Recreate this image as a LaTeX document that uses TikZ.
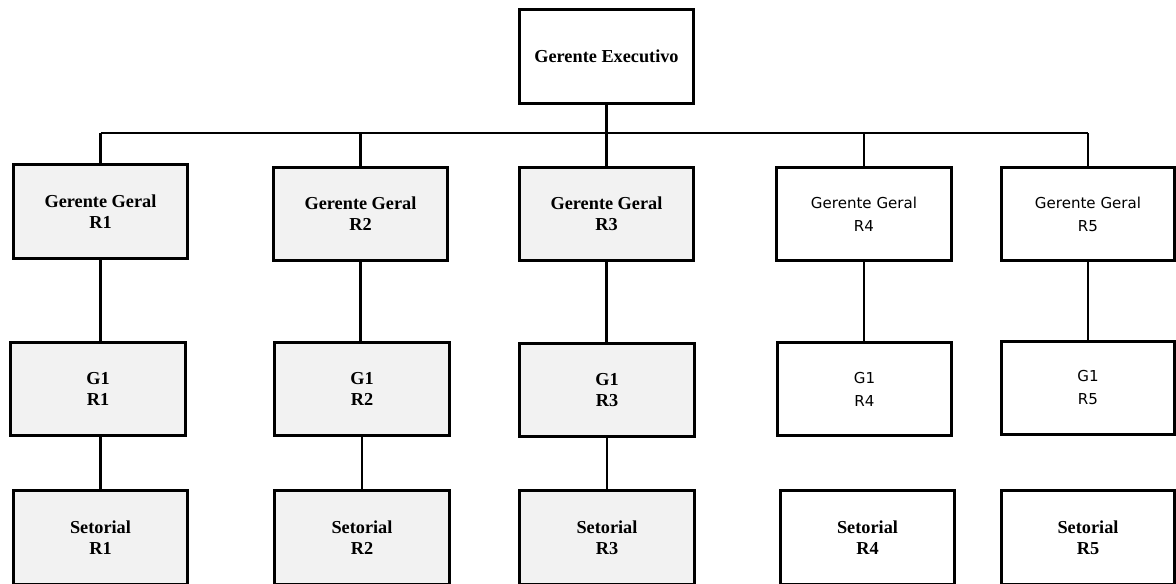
\documentclass[tikz,border=0pt]{standalone}
\usepackage{fontspec}
\setmainfont{Liberation Serif}
\newfontfamily\boxsans{DejaVu Sans}
\definecolor{boxgrey}{HTML}{F2F2F2}
\begin{document}
\begin{tikzpicture}[x=0.75pt,y=-0.75pt,
  orgbox/.style={draw=black,line width=2.2pt,rectangle,inner sep=0pt,
    minimum width=131pt,minimum height=70pt,align=center},
  greybox/.style={orgbox,fill=boxgrey},
  whitebox/.style={orgbox,fill=white},
  serifbold/.style={font=\fontsize{13.7}{15.75}\selectfont\bfseries},
  sanstext/.style={font=\boxsans\fontsize{11.3}{17.25}\selectfont},
  conn/.style={draw=black,line width=2.2pt}]
\useasboundingbox (0,0) rectangle (1176,583);
% top
\node[whitebox,serifbold,minimum width=131pt,minimum height=71pt] (E) at (606.5,56.5) {Gerente Executivo};
% row 1
\node[greybox,serifbold] (A1) at (100.5,211.5) {Gerente Geral\\R1};
\node[greybox,serifbold] (A2) at (360.5,214) {Gerente Geral\\R2};
\node[greybox,serifbold] (A3) at (606.5,214) {Gerente Geral\\R3};
\node[whitebox,sanstext] (A4) at (864,214) {Gerente Geral\\R4};
\node[whitebox,sanstext,minimum width=130pt] (A5) at (1088,214) {Gerente Geral\\R5};
% row 2
\node[greybox,serifbold] (B1) at (98,389) {G1\\R1};
\node[greybox,serifbold] (B2) at (362,389) {G1\\R2};
\node[greybox,serifbold] (B3) at (607,390) {G1\\R3};
\node[whitebox,sanstext] (B4) at (864.5,389) {G1\\R4};
\node[whitebox,sanstext,minimum width=130pt] (B5) at (1088,388) {G1\\R5};
% row 3
\node[greybox,serifbold] (C1) at (100.5,537.5) {Setorial\\R1};
\node[greybox,serifbold] (C2) at (362,537.5) {Setorial\\R2};
\node[greybox,serifbold] (C3) at (607,537.5) {Setorial\\R3};
\node[whitebox,serifbold] (C4) at (867.5,537.5) {Setorial\\R4};
\node[whitebox,serifbold,minimum width=130pt] (C5) at (1088,537.5) {Setorial\\R5};
% bus
\coordinate (bus) at (606.5,133);
\draw[conn] (E.south) -- (bus);
\draw[conn] (A1.north |- bus) -- (A5.north |- bus);
\foreach \n in {A1,A2,A3,A4,A5}{
  \draw[conn] (\n.north |- bus) -- (\n.north);
}
% vertical links
\draw[conn] (A1) -- (B1.north -| A1);
\draw[conn] (A2) -- (B2.north -| A2);
\draw[conn] (A3) -- (B3.north -| A3);
\draw[conn] (A4) -- (B4.north -| A4);
\draw[conn] (A5) -- (B5.north -| A5);
\draw[conn] (B1.south -| A1) -- (C1.north -| A1);
\draw[conn] (B2) -- (C2.north -| B2);
\draw[conn] (B3) -- (C3.north -| B3);
\end{tikzpicture}
\end{document}
